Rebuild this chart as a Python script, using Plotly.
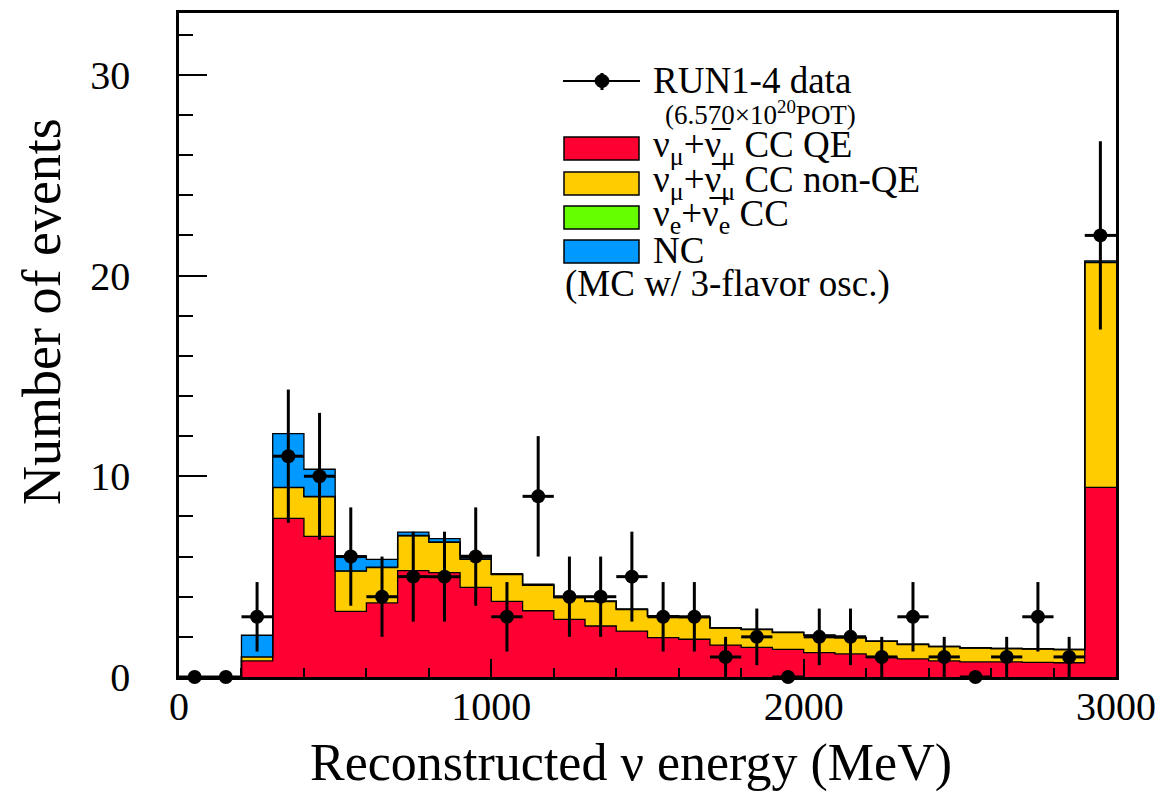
import numpy as np
import plotly.graph_objects as go

# ---------------- data ----------------
bin_edges = [0, 100, 200, 300, 400, 500, 600, 700, 800, 900, 1000, 1100, 1200, 1300, 1400,
             1500, 1600, 1700, 1800, 1900, 2000, 2100, 2200, 2300, 2400, 2500, 2600, 2700,
             2800, 2900, 3000]
bin_centers = [50, 150, 250, 350, 450, 550, 650, 750, 850, 950, 1050, 1150, 1250, 1350, 1450,
               1550, 1650, 1750, 1850, 1950, 2050, 2150, 2250, 2350, 2450, 2550, 2650, 2750,
               2850, 2950]

mc_ccqe = [0, 0, 0.80, 7.90, 7.01, 3.27, 3.69, 5.30, 5.20, 4.47, 3.77, 3.30, 2.87, 2.54, 2.29,
           1.96, 1.88, 1.59, 1.48, 1.38, 1.21, 1.15, 0.98, 0.90, 0.80, 0.75, 0.75, 0.73,
           0.71, 9.45]
mc_ccnonqe = [0, 0, 0.20, 1.53, 1.97, 2.00, 1.76, 1.73, 1.51, 1.39, 1.33, 1.27, 1.09, 1.22, 1.07,
              1.06, 1.08, 0.85, 0.88, 0.83, 0.86, 0.80, 0.79, 0.72, 0.71, 0.69, 0.66, 0.66,
              0.65, 11.20]
mc_nue = [0, 0, 0.00, 0.02, 0.02, 0.02, 0.02, 0.02, 0.02, 0.02, 0.01, 0.01, 0.01, 0.01, 0.01,
          0.01, 0.01, 0.01, 0.01, 0.01, 0.01, 0.01, 0.01, 0.01, 0.01, 0.01, 0.01, 0.01,
          0.01, 0.02]
mc_nc = [0, 0, 1.08, 2.67, 1.35, 0.74, 0.39, 0.17, 0.16, 0.18, 0.04, 0.04, 0.03, 0.02, 0.02,
         0.02, 0.02, 0.01, 0.01, 0.01, 0.01, 0.01, 0.01, 0.01, 0.01, 0.01, 0.01, 0.01,
         0.01, 0.06]

data_counts = [0, 0, 3, 11, 10, 6, 4, 5, 5, 6, 3, 9, 4, 4, 5, 3, 3, 1, 2, 0, 2, 2, 1, 3, 1, 0,
               1, 3, 1, 22]
data_err = [0, 0, 1.73, 3.32, 3.16, 2.45, 2.00, 2.24, 2.24, 2.45, 1.73, 3.00, 2.00, 2.00, 2.24,
            1.73, 1.73, 1.00, 1.41, 0, 1.41, 1.41, 1.00, 1.73, 1.00, 0, 1.00, 1.73, 1.00, 4.69]
data_xerr = [50] * 30

x_tickvals = [0, 1000, 2000, 3000]
y_tickvals = [0, 10, 20, 30]

legend_labels = ["RUN1-4 data",
                 "(6.570×10<sup>20</sup>POT)",
                 "ν<sub>μ</sub>+ν\u0305<sub>μ</sub> CC QE",
                 "ν<sub>μ</sub>+ν\u0305<sub>μ</sub> CC non-QE",
                 "ν<sub>e</sub>+ν\u0305<sub>e</sub> CC",
                 "NC",
                 "(MC w/ 3-flavor osc.)"]

colors = ["#FF0033", "#FFCC00", "#66FF00", "#0099FF"]
FONT = "Liberation Serif"

# ---------------- figure ----------------
fig = go.Figure()

layers = [mc_ccqe, mc_ccnonqe, mc_nue, mc_nc]
cum = np.zeros(len(bin_centers))
for i, (layer, col) in enumerate(zip(layers, colors)):
    cum = cum + np.array(layer)
    yvals = list(cum) + [cum[-1]]
    fig.add_trace(go.Scatter(
        x=bin_edges, y=yvals, mode="lines", line_shape="hv",
        line=dict(color="black", width=1.3),
        fill="tozeroy" if i == 0 else "tonexty", fillcolor=col,
        showlegend=False, hoverinfo="skip"))

fig.add_trace(go.Scatter(
    x=bin_centers, y=data_counts, mode="markers",
    marker=dict(color="black", size=14, symbol="circle"),
    error_y=dict(type="data", array=data_err, visible=True, color="black", thickness=3, width=0),
    error_x=dict(type="data", array=data_xerr, visible=True, color="black", thickness=3, width=0),
    cliponaxis=False, showlegend=False))

# page offset (body margin) compensation: figure drawn 8px right/down
OFF = 8
W, H = 1174 - OFF, 793 - OFF
# plot area in screen pixels
SL, ST, SR, SB = 179, 13, 1116, 677
PW, PH = SR - SL, SB - ST


def px(xs):
    return (xs - SL) / PW


def py(ys):
    return (SB - ys) / PH


shapes = []
shapes.append(dict(type="line", xref="paper", yref="paper", x0=px(563), x1=px(640),
                   y0=py(81), y1=py(81), line=dict(color="black", width=2)))
shapes.append(dict(type="line", xref="paper", yref="paper", x0=px(602), x1=px(602),
                   y0=py(73), y1=py(90), line=dict(color="black", width=3)))
shapes.append(dict(type="circle", xref="paper", yref="paper", x0=px(595), x1=px(609),
                   y0=py(74.5), y1=py(87.5), fillcolor="black", line=dict(color="black", width=1)))
box_tops = [137, 172, 206, 240]
for col, top in zip(colors, box_tops):
    shapes.append(dict(type="rect", xref="paper", yref="paper", x0=px(564), x1=px(639),
                       y0=py(top), y1=py(top + 23), fillcolor=col,
                       line=dict(color="black", width=1.5)))

annotations = []
text_pos = [(651, 80, 37), (663, 113, 27), (651, 148, 37), (651, 183, 37), (651, 216, 37),
            (651, 250, 37), (563, 284, 37)]
for lab, (tx, ty, fs) in zip(legend_labels, text_pos):
    annotations.append(dict(text=lab, xref="paper", yref="paper", x=px(tx), y=py(ty),
                            xanchor="left", yanchor="middle", showarrow=False,
                            font=dict(family=FONT, size=fs, color="black")))

annotations.append(dict(text="Reconstructed ν energy (MeV)", xref="paper", yref="paper",
                        x=px(631), y=py(763), xanchor="center", yanchor="middle",
                        showarrow=False, font=dict(family=FONT, size=52, color="black")))
annotations.append(dict(text="Number of events", xref="paper", yref="paper",
                        x=px(42), y=py(312), xanchor="center", yanchor="middle",
                        textangle=-90, showarrow=False,
                        font=dict(family=FONT, size=54, color="black")))

fig.update_layout(
    width=W, height=H,
    margin=dict(l=SL - OFF, r=W - (SR - OFF), t=ST - OFF, b=H - (SB - OFF), autoexpand=False),
    paper_bgcolor="white", plot_bgcolor="white",
    shapes=shapes, annotations=annotations, showlegend=False,
    font=dict(family=FONT, color="black"),
)
fig.update_xaxes(range=[0, 3000], tickvals=x_tickvals, ticks="inside", ticklen=18,
                 tickwidth=1.5, tickcolor="black",
                 minor=dict(dtick=200, tick0=0, ticks="inside", ticklen=9, tickwidth=1.5,
                            tickcolor="black", showgrid=False),
                 showline=True, linewidth=2.5, linecolor="black", mirror=True,
                 showgrid=False, zeroline=False, ticklabelstandoff=-8,
                 tickfont=dict(family=FONT, size=40, color="black"))
fig.update_yaxes(range=[0, 33.08], tickvals=y_tickvals, ticks="inside", ticklen=28,
                 tickwidth=1.5, tickcolor="black",
                 minor=dict(dtick=2, tick0=0, ticks="inside", ticklen=14, tickwidth=1.5,
                            tickcolor="black", showgrid=False),
                 showline=True, linewidth=2.5, linecolor="black", mirror=True,
                 showgrid=False, zeroline=False, ticklabelstandoff=38,
                 tickfont=dict(family=FONT, size=40, color="black"))

fig.write_html("out.html")
